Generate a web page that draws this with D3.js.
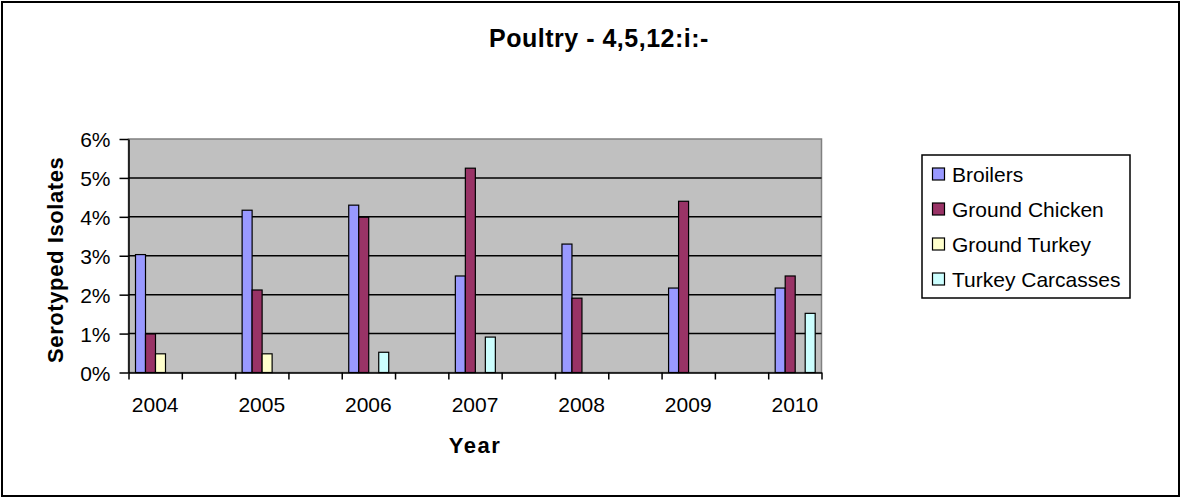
<!DOCTYPE html>
<html>
<head>
<meta charset="utf-8">
<script src="https://cdn.jsdelivr.net/npm/d3@7/dist/d3.min.js"></script>
<style>
  html, body { margin: 0; padding: 0; background: #fff; }
  svg text { font-family: "Liberation Sans", Arial, Helvetica, sans-serif; fill: #000; }
</style>
</head>
<body>
<svg id="chart" width="1182" height="499"></svg>
<script>
// ---- data ----
const title = "Poultry - 4,5,12:i:-";
const xTitle = "Year";
const yTitle = "Serotyped Isolates";
// category slots along the axis (labels every other slot)
const slots = ["2004", "", "2005", "", "2006", "", "2007", "", "2008", "", "2009", "", "2010"];
const years = ["2004", "2005", "2006", "2007", "2008", "2009", "2010"];
const seriesNames = ["Broilers", "Ground Chicken", "Ground Turkey", "Turkey Carcasses"];
const broilers       = [0.0303, 0.0417, 0.0430, 0.0248, 0.0330, 0.0217, 0.0217];
const groundChicken  = [0.0099, 0.0212, 0.0399, 0.0525, 0.0191, 0.0440, 0.0248];
const groundTurkey   = [0.0048, 0.0048, 0,      0,      0,      0,      0     ];
const turkeyCarcass  = [0,      0,      0.0052, 0.0091, 0,      0,      0.0152];
const yTicks = [0, 0.01, 0.02, 0.03, 0.04, 0.05, 0.06];
const colors = ["#9999FF", "#993366", "#FFFFCC", "#CCFFFF"];

const seriesValues = [broilers, groundChicken, groundTurkey, turkeyCarcass];

// ---- layout ----
const svg = d3.select("#chart");
const plot = { left: 128.5, right: 821.5, top: 139, bottom: 372.5 };

svg.append("rect")
  .attr("x", 2).attr("y", 2).attr("width", 1177).attr("height", 494)
  .attr("fill", "#fff").attr("stroke", "#000").attr("stroke-width", 2);

const x = d3.scaleBand().domain(d3.range(slots.length)).range([plot.left, plot.right]).paddingInner(0).paddingOuter(0);
const x1 = d3.scaleBand().domain(seriesNames).range([7, 7 + 40]).padding(0);
const y = d3.scaleLinear().domain([0, 0.06]).range([plot.bottom, plot.top]);

// plot background
svg.append("rect")
  .attr("x", plot.left).attr("y", plot.top)
  .attr("width", plot.right - plot.left).attr("height", plot.bottom - plot.top)
  .attr("fill", "#C0C0C0").attr("stroke", "#808080").attr("stroke-width", 1.5);

// gridlines
svg.append("g").selectAll("line")
  .data(yTicks.filter(d => d > 0 && d < 0.06))
  .join("line")
  .attr("x1", plot.left).attr("x2", plot.right)
  .attr("y1", d => y(d)).attr("y2", d => y(d))
  .attr("stroke", "#000").attr("stroke-width", 1.5);

// bars
const barData = [];
years.forEach((yr, i) => {
  const slot = slots.indexOf(yr);
  seriesNames.forEach((s, j) => {
    const v = seriesValues[j][i];
    if (v > 0) barData.push({ slot, s, v, c: colors[j] });
  });
});
svg.append("g").selectAll("rect")
  .data(barData)
  .join("rect")
  .attr("x", d => x(d.slot) + x1(d.s))
  .attr("y", d => y(d.v))
  .attr("width", x1.bandwidth())
  .attr("height", d => y(0) - y(d.v))
  .attr("fill", d => d.c)
  .attr("stroke", "#000").attr("stroke-width", 1.2);

// y axis
const yAxis = svg.append("g")
  .attr("transform", `translate(${plot.left},0)`)
  .call(d3.axisLeft(y).tickValues(yTicks).tickFormat(d3.format(".0%")).tickSize(9).tickPadding(9).tickSizeOuter(0));
yAxis.selectAll("text").style("font-size", "21px").attr("dy", "0.36em");
yAxis.selectAll("line, path").attr("stroke", "#000").attr("stroke-width", 1.5);

// x axis: tick marks at slot boundaries
const xb = d3.scaleLinear().domain([0, slots.length]).range([plot.left, plot.right]);
const xAxis = svg.append("g")
  .attr("transform", `translate(0,${plot.bottom})`)
  .call(d3.axisBottom(xb).tickValues(d3.range(slots.length + 1)).tickFormat("").tickSize(7).tickSizeOuter(0));
xAxis.selectAll("line, path").attr("stroke", "#000").attr("stroke-width", 1.5);

// x labels at slot centers
svg.append("g").selectAll("text")
  .data(slots.map((s, i) => ({ s, i })).filter(d => d.s !== ""))
  .join("text")
  .attr("x", d => x(d.i) + x.bandwidth() / 2)
  .attr("y", 412)
  .attr("text-anchor", "middle")
  .style("font-size", "21px")
  .text(d => d.s);

// titles
svg.append("text")
  .attr("x", 599).attr("y", 47)
  .attr("text-anchor", "middle")
  .style("font-size", "25px").style("font-weight", "bold").style("letter-spacing", "0.5px")
  .text(title);

svg.append("text")
  .attr("x", (plot.left + plot.right) / 2).attr("y", 453)
  .attr("text-anchor", "middle")
  .style("font-size", "22px").style("font-weight", "bold").style("letter-spacing", "1.5px")
  .text(xTitle);

svg.append("text")
  .attr("transform", `translate(63,${(plot.top + plot.bottom) / 2 + 4}) rotate(-90)`)
  .attr("text-anchor", "middle")
  .style("font-size", "22px").style("font-weight", "bold").style("letter-spacing", "0.6px")
  .text(yTitle);

// legend
const lg = svg.append("g");
lg.append("rect")
  .attr("x", 922).attr("y", 155).attr("width", 208).attr("height", 143)
  .attr("fill", "#fff").attr("stroke", "#000").attr("stroke-width", 1.5);
const items = lg.selectAll("g.item")
  .data(seriesNames.map((s, i) => ({ s, c: colors[i], i })))
  .join("g").attr("class", "item")
  .attr("transform", d => `translate(0,${174 + d.i * 35})`);
items.append("rect")
  .attr("x", 932.5).attr("y", -6).attr("width", 12).attr("height", 12)
  .attr("fill", d => d.c).attr("stroke", "#000").attr("stroke-width", 1.2);
items.append("text")
  .attr("x", 952).attr("y", 7.5)
  .style("font-size", "21px")
  .text(d => d.s);
</script>
</body>
</html>
